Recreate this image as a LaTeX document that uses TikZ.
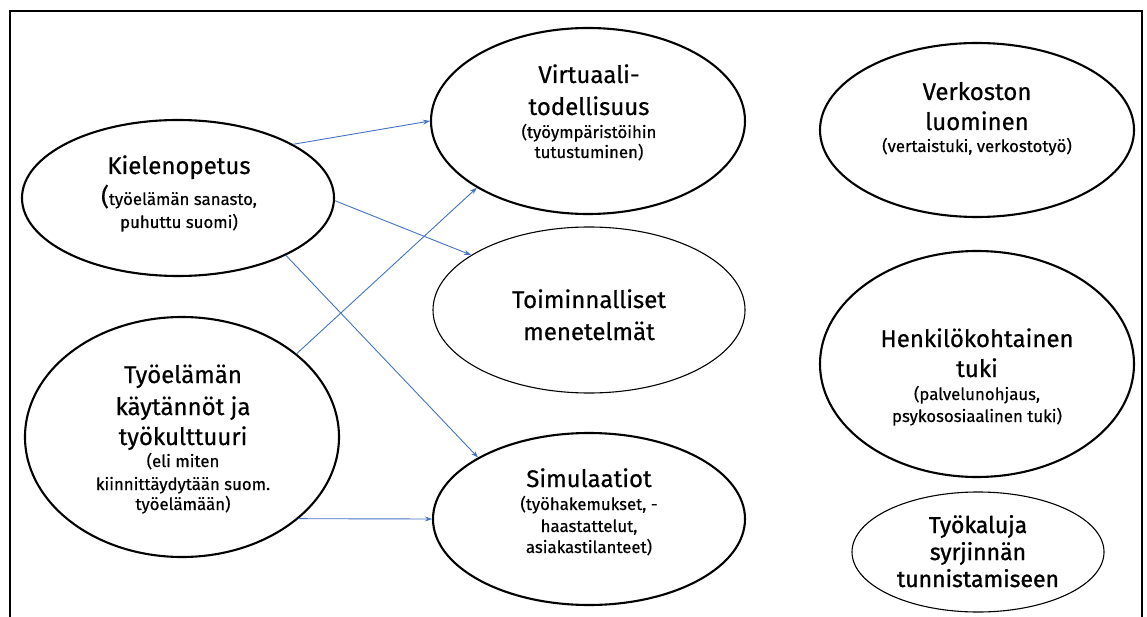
\documentclass[tikz,border=0pt]{standalone}
\usepackage{fontspec}
\setmainfont{Fira Sans}
\usetikzlibrary{shapes.geometric,arrows.meta}
\definecolor{arrowblue}{RGB}{68,114,196}
\tikzset{
  ellthick/.style={ellipse, draw=black, line width=2.1pt, inner sep=0pt},
  ellthin/.style={ellipse, draw=black, line width=1.1pt, inner sep=0pt},
  ttl/.style={anchor=base, inner sep=0pt, font=\fontsize{24}{24}\selectfont\addfontfeatures{FakeBold=0.6}},
  ttlb/.style={anchor=base, inner sep=0pt, font=\fontsize{23}{23}\selectfont\addfontfeatures{FakeBold=1.2}},
  sub/.style={anchor=base, inner sep=0pt, font=\fontsize{16.8}{16.8}\selectfont\addfontfeatures{FakeBold=0.5}},
  conn/.style={draw=arrowblue, line width=0.9pt, -{Stealth[length=7pt,width=5pt]}},
  frame/.style={draw=black, line width=1.4pt}
}
\begin{document}
\begin{tikzpicture}[x=1pt,y=-1pt]
\useasboundingbox (0,0) rectangle (1147,617);
\coordinate (f1) at (10,617);
\coordinate (f2) at (10,11);
\coordinate (f3) at (1142,11);
\coordinate (f4) at (1142,617);
\draw[frame] (f1) -- (f2) -- (f3) -- (f4);

% ellipses
\node[ellthick, minimum width=312pt, minimum height=156pt] (kiel) at (178,198) {};
\node[ellthick, minimum width=314pt, minimum height=240pt] (tyo) at (182,437) {};
\node[ellthick, minimum width=314pt, minimum height=186pt] (virt) at (588,121) {};
\node[ellthin, minimum width=312pt, minimum height=166pt] (toim) at (589,310) {};
\node[ellthick, minimum width=312pt, minimum height=172pt] (simu) at (589,519) {};
\node[ellthick, minimum width=314pt, minimum height=174pt] (verk) at (977,130) {};
\node[ellthick, minimum width=314pt, minimum height=226pt] (henk) at (977,364) {};
\node[ellthin, minimum width=252pt, minimum height=120pt] (tyok) at (978,552) {};

% texts
\node[ttl] (k1) at (179,174) {Kielenopetus};
\node[sub] (k2) at (179,205) {{\fontsize{24}{24}\selectfont(}työelämän sanasto,};
\node[sub] (k3) at (179,228) {puhuttu suomi)};

\node[ttl] (v1) at (589,83) {Virtuaali-};
\node[ttl] (v2) at (589,115) {todellisuus};
\node[sub] (v3) at (589,138) {(työympäristöihin};
\node[sub] (v4) at (589,158) {tutustuminen)};

\node[ttl] (t1) at (183,383) {Työelämän};
\node[ttl] (t2) at (183,415) {käytännöt ja};
\node[ttl] (t3) at (183,445) {työkulttuuri};
\node[sub] (t4) at (183,467) {(eli miten};
\node[sub] (t5) at (183,490) {kiinnittäydytään suom.};
\node[sub] (t6) at (183,510) {työelämään)};

\node[ttl] (o1) at (589,308) {Toiminnalliset};
\node[ttl] (o2) at (589,340) {menetelmät};

\node[ttl] (s1) at (589,487) {Simulaatiot};
\node[sub] (s2) at (589,510) {(työhakemukset, -};
\node[sub] (s3) at (589,532) {haastattelut,};
\node[sub] (s4) at (589,553) {asiakastilanteet)};

\node[ttl] (n1) at (977,100) {Verkoston};
\node[ttl] (n2) at (977,130) {luominen};
\node[sub] (n3) at (977,152) {(vertaistuki, verkostotyö)};

\node[ttl] (h1) at (977,347) {Henkilökohtainen};
\node[ttl] (h2) at (977,377) {tuki};
\node[sub] (h3) at (977,400) {(palvelunohjaus,};
\node[sub] (h4) at (977,422) {psykososiaalinen tuki)};

\node[ttlb] (w1) at (978,533) {Työkaluja};
\node[ttlb] (w2) at (978,560) {syrjinnän};
\node[ttlb] (w3) at (978,587) {tunnistamiseen};

% connectors
\draw[conn] (kiel.25) -- (virt.180);
\draw[conn] (kiel.-1) -- (toim.155.6);
\draw[conn] (kiel.-28) -- (simu.151);
\draw[conn] (tyo.36.6) -- (virt.211);
\draw[conn] (tyo.-35.5) -- (simu.180);
\end{tikzpicture}
\end{document}
